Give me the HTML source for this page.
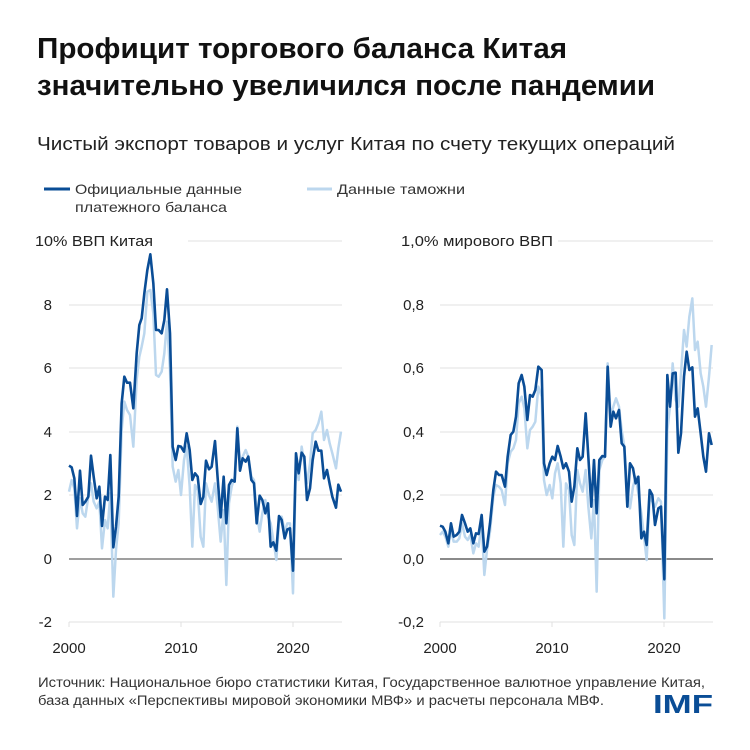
<!DOCTYPE html>
<html><head><meta charset="utf-8"><style>
html,body{margin:0;padding:0;background:#fff;}
svg{display:block;font-family:"Liberation Sans",sans-serif;}
</style></head><body>
<svg width="750" height="750" viewBox="0 0 750 750" xmlns="http://www.w3.org/2000/svg">
<rect width="750" height="750" fill="#fff"/>
<text x="37" y="58" font-size="29" font-weight="bold" fill="#111" textLength="530" lengthAdjust="spacingAndGlyphs">Профицит торгового баланса Китая</text>
<text x="37" y="95" font-size="29" font-weight="bold" fill="#111" textLength="618" lengthAdjust="spacingAndGlyphs">значительно увеличился после пандемии</text>
<text x="37" y="150" font-size="18" fill="#222" textLength="638" lengthAdjust="spacingAndGlyphs">Чистый экспорт товаров и услуг Китая по счету текущих операций</text>
<line x1="44" y1="189" x2="70" y2="189" stroke="#0a4d96" stroke-width="3"/>
<text x="75" y="194" font-size="14" fill="#333" textLength="167" lengthAdjust="spacingAndGlyphs">Официальные данные</text>
<text x="75" y="212" font-size="14" fill="#333" textLength="152" lengthAdjust="spacingAndGlyphs">платежного баланса</text>
<line x1="307" y1="189" x2="332" y2="189" stroke="#bcd7ee" stroke-width="3"/>
<text x="337" y="194" font-size="14" fill="#333" textLength="128" lengthAdjust="spacingAndGlyphs">Данные таможни</text>

<g stroke="#e0e0e0" stroke-width="1">
<line x1="188" y1="241" x2="342" y2="241"/>
<line x1="69" y1="305" x2="342" y2="305"/>
<line x1="69" y1="368" x2="342" y2="368"/>
<line x1="69" y1="432" x2="342" y2="432"/>
<line x1="69" y1="495" x2="342" y2="495"/>
<line x1="69" y1="622" x2="342" y2="622"/>
<line x1="69" y1="622" x2="69" y2="627"/><line x1="181" y1="622" x2="181" y2="627"/><line x1="293" y1="622" x2="293" y2="627"/>
<line x1="558" y1="241" x2="713" y2="241"/>
<line x1="440" y1="305" x2="713" y2="305"/>
<line x1="440" y1="368" x2="713" y2="368"/>
<line x1="440" y1="432" x2="713" y2="432"/>
<line x1="440" y1="495" x2="713" y2="495"/>
<line x1="440" y1="622" x2="713" y2="622"/>
<line x1="440" y1="622" x2="440" y2="627"/><line x1="552" y1="622" x2="552" y2="627"/><line x1="664" y1="622" x2="664" y2="627"/>
</g>
<line x1="69" y1="559" x2="342" y2="559" stroke="#666" stroke-width="1.3"/>
<line x1="440" y1="559" x2="713" y2="559" stroke="#444" stroke-width="1.3"/>

<g font-size="15" fill="#222">
<text x="35" y="246" textLength="118" lengthAdjust="spacingAndGlyphs">10% ВВП Китая</text>
<g text-anchor="end">
<text x="52" y="310">8</text><text x="52" y="373">6</text><text x="52" y="437">4</text><text x="52" y="500">2</text><text x="52" y="564">0</text><text x="52" y="627">-2</text>
</g>
<g text-anchor="middle">
<text x="69" y="653">2000</text><text x="181" y="653">2010</text><text x="293" y="653">2020</text>
<text x="440" y="653">2000</text><text x="552" y="653">2010</text><text x="664" y="653">2020</text>
</g>
<text x="401" y="246" textLength="152" lengthAdjust="spacingAndGlyphs">1,0% мирового ВВП</text>
<g text-anchor="end">
<text x="424" y="310">0,8</text><text x="424" y="373">0,6</text><text x="424" y="437">0,4</text><text x="424" y="500">0,2</text><text x="424" y="564">0,0</text><text x="424" y="627">-0,2</text>
</g>
</g>

<g transform="translate(30,230) scale(0.33333)" fill="none" stroke-linejoin="round">
<polyline stroke="#bcd7ee" stroke-width="2.5" vector-effect="non-scaling-stroke" points="117,785 125,750 133,775 141,895 150,805 158,850 166,860 175,800 183,760 191,815 200,835 208,815 216,955 225,870 233,895 241,790 250,1100 258,960 266,880 275,600 283,515 291,540 300,555 310,650 320,450 328,380 335,350 343,310 352,185 361,180 370,250 378,435 386,440 395,425 403,370 411,275 420,420 428,710 437,755 445,720 453,795 462,690 470,650 479,770 487,950 495,765 503,780 512,920 520,950 528,760 537,795 545,815 555,760 563,830 572,935 581,840 589,1065 597,820 605,770 614,740 622,590 630,700 638,680 647,660 655,680 664,740 672,750 680,850 689,905 697,850 706,810 714,860 722,880 730,930 739,990 747,880 755,860 764,905 772,880 780,880 789,1090 798,700 806,750 815,650 823,700 831,760 840,700 848,610 857,600 865,580 874,545 882,630 891,600 899,640 907,670 918,715 925,655 933,605"/>
<polyline stroke="#0a4d96" stroke-width="2.6" vector-effect="non-scaling-stroke" points="117,707 125,712 133,745 141,858 150,722 158,825 166,815 175,800 183,677 191,740 200,805 208,770 216,888 225,800 233,810 241,675 250,952 258,890 266,800 275,520 283,440 291,458 300,458 310,535 320,370 328,285 335,265 343,190 352,120 361,73 370,160 378,300 386,300 395,310 403,270 411,178 420,310 428,650 437,690 445,648 453,650 462,665 470,610 479,660 487,750 495,730 503,740 512,822 520,800 528,692 537,718 545,710 555,633 563,745 572,862 581,740 589,880 597,765 605,750 614,755 622,595 630,722 638,685 647,695 655,680 664,750 672,760 680,880 689,797 697,810 706,850 714,820 722,950 730,937 739,962 747,858 755,870 764,925 772,898 780,895 789,1022 798,670 806,730 815,668 823,680 831,810 840,775 848,690 857,635 865,662 874,662 882,745 891,720 899,762 907,800 918,833 925,764 933,785"/>
</g>
<g transform="translate(390,230) scale(0.33333)" fill="none" stroke-linejoin="round">
<polyline stroke="#bcd7ee" stroke-width="2.5" vector-effect="non-scaling-stroke" points="150,915 158,905 166,920 175,950 183,900 191,935 200,935 208,925 216,880 225,920 233,930 241,915 250,970 258,940 266,950 275,880 283,1035 291,960 300,905 310,800 318,765 327,770 335,780 345,825 353,700 362,665 370,655 378,630 386,520 395,500 403,535 412,655 420,600 428,590 436,575 445,470 455,500 462,750 470,795 479,765 487,805 495,730 503,700 512,760 520,950 528,760 537,780 545,915 553,945 562,720 570,760 578,785 587,720 595,830 604,925 612,810 620,1085 628,720 637,690 645,680 653,400 662,560 670,530 678,505 687,530 695,600 703,650 712,780 720,835 729,770 737,740 745,790 754,850 762,920 770,990 779,800 787,815 795,830 805,805 813,815 823,1165 832,600 840,530 848,400 857,510 865,530 873,430 882,300 890,350 898,260 907,205 915,360 923,335 932,430 940,470 948,530 957,440 965,345"/>
<polyline stroke="#0a4d96" stroke-width="2.6" vector-effect="non-scaling-stroke" points="150,887 158,890 166,905 175,940 183,880 191,920 200,915 208,905 216,855 225,880 233,905 241,895 250,940 258,910 266,912 275,855 283,965 291,950 300,880 310,780 318,725 327,735 335,735 345,770 353,680 362,615 370,605 378,560 386,460 395,435 403,470 412,570 420,495 428,500 436,480 445,410 455,420 462,700 470,735 479,700 487,680 495,690 503,648 512,680 520,715 528,700 537,725 545,815 553,770 562,655 570,690 578,680 587,550 595,680 604,830 612,690 620,850 628,690 637,678 645,680 653,410 662,590 670,545 678,565 687,540 695,640 703,650 712,830 720,700 729,715 737,760 745,740 754,925 762,905 770,945 779,780 787,795 795,885 805,835 813,830 823,1048 832,435 840,530 848,430 857,428 865,668 873,610 882,440 890,365 898,420 907,412 915,560 923,535 932,610 940,680 948,725 957,610 965,645"/>
</g>

<text x="38" y="687" font-size="13.5" fill="#333" textLength="667" lengthAdjust="spacingAndGlyphs">Источник: Национальное бюро статистики Китая, Государственное валютное управление Китая,</text>
<text x="38" y="705" font-size="13.5" fill="#333" textLength="566" lengthAdjust="spacingAndGlyphs">база данных «Перспективы мировой экономики МВФ» и расчеты персонала МВФ.</text>
<text x="653" y="713" font-size="26" font-weight="bold" fill="#0a4d96" textLength="60" lengthAdjust="spacingAndGlyphs">IMF</text>
</svg>
</body></html>
